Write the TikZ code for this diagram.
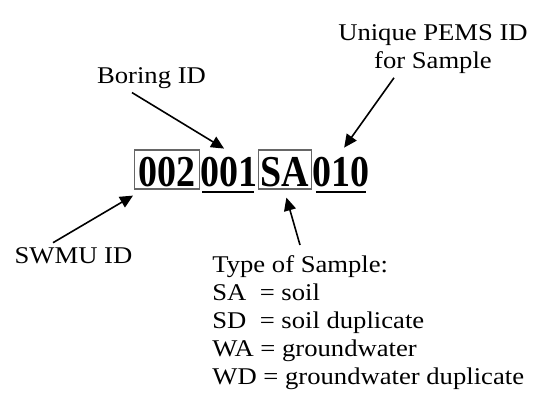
\documentclass[tikz,border=0pt]{standalone}
\usepackage{fontspec}
\setmainfont{Liberation Serif}
\usetikzlibrary{arrows.meta}
\newcommand\lbl[1]{\scalebox{1.11}[1]{#1}}
\newcommand\bigt[1]{\scalebox{1}[1.16]{\bfseries #1}}
\begin{document}
\begin{tikzpicture}[x=0.5pt,y=-0.5pt,
  label/.style={font=\fontsize{12}{14}\selectfont, inner sep=0pt},
  idpart/.style={font=\fontsize{19}{22}\selectfont, anchor=base west,
    inner ysep=0pt, text height=18pt, text depth=1.5pt},
  idbox/.style={draw=black!60, line width=0.6pt},
  uline/.style={line width=1pt},
  arr/.style={line width=0.8pt, -{Triangle[length=6.5pt,width=6pt]}}]
\useasboundingbox[fill=white] (0,0) rectangle (538,414);

% identifier parts
\node[idpart, idbox, inner xsep=2pt] (b1) at (134,186) {\bigt{002}};
\node[idpart, inner xsep=0pt] (b2) at (b1.base east) {\bigt{001}};
\node[idpart, idbox, inner xsep=1pt] (b3) at (b2.base east) {\bigt{SA}};
\node[idpart, inner xsep=0pt] (b4) at (b3.base east) {\bigt{010}};
\draw[uline] ([xshift=1pt,yshift=-1.5pt]b2.south west) -- ([xshift=-2pt,yshift=-1.5pt]b2.south east);
\draw[uline] ([xshift=2pt,yshift=-1.5pt]b4.south west) -- ([xshift=-2pt,yshift=-1.5pt]b4.south east);

% labels
\node[label, anchor=base] (boring) at (151.5,83) {\lbl{Boring ID}};
\node[label, anchor=north, align=center] (pems) at (433,24)
  {\lbl{Unique PEMS ID}\\\lbl{for Sample}};
\node[label, anchor=base] (swmu) at (73.5,263) {\lbl{SWMU ID}};
\node[label, anchor=north west, align=left] (type) at (212,255.6)
  {\lbl{Type of Sample:}\\
   \lbl{SA\ \ = soil}\\
   \lbl{SD\ \ = soil duplicate}\\
   \lbl{WA = groundwater}\\
   \lbl{WD = groundwater duplicate}};

% arrows
\draw[arr] ([shift={(-19.5,4)}]boring.south) -- ([shift={(-5,-1)}]b2.north);
\draw[arr] ([shift={(-39,4)}]pems.south) -- ([shift={(3.5,-2)}]b4.north);
\draw[arr] ([shift={(-20.5,-4)}]swmu.north) -- ([shift={(-1,6)}]b1.south west);
\draw[arr] ([shift={(88,-10.6)}]type.north west) -- ([shift={(1.5,8)}]b3.south);
\end{tikzpicture}
\end{document}
